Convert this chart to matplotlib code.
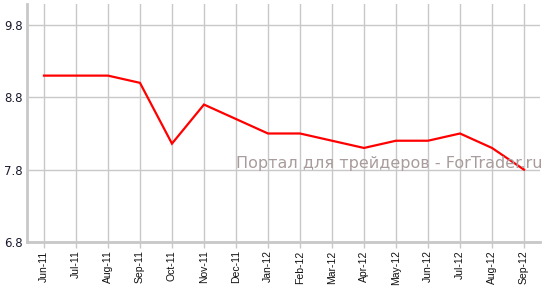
import matplotlib
matplotlib.use("Agg")
import matplotlib.pyplot as plt

months = ["Jun-11", "Jul-11", "Aug-11", "Sep-11", "Oct-11", "Nov-11", "Dec-11",
          "Jan-12", "Feb-12", "Mar-12", "Apr-12", "May-12", "Jun-12", "Jul-12",
          "Aug-12", "Sep-12"]
values = [9.1, 9.1, 9.1, 9.0, 8.16, 8.7, 8.5, 8.3, 8.3, 8.2, 8.1, 8.2, 8.2, 8.3, 8.1, 7.8]
yticks = [6.8, 7.8, 8.8, 9.8]

fig = plt.figure(figsize=(5.49, 2.94), dpi=100)
ax = fig.add_axes([27/549, 1-242/294, (540-27)/549, (242-4)/294])

x = list(range(len(months)))
ax.plot(x, values, color="#ff0000", lw=1.6, zorder=3, solid_joinstyle="miter")

ax.set_xlim(-0.53, len(months) - 0.5)
ax.set_ylim(6.8, 10.09)
ax.set_yticks(yticks)
ax.set_yticklabels([f"{v:.1f}" for v in yticks], fontsize=8.5, color="#1a1a2e",
                   family="DejaVu Sans")
ax.set_xticks(x)
ax.set_xticklabels(months, rotation=90, fontsize=7.5, family="Liberation Sans",
                   color="#111111")
ax.grid(True, color="#c8c8c8", lw=1)
ax.set_axisbelow(True)
ax.tick_params(axis="x", length=4, color="#c8c8c8", width=1, pad=2)
ax.tick_params(axis="y", length=0, pad=3)
for s in ["top", "right"]:
    ax.spines[s].set_visible(False)
for s in ["left", "bottom"]:
    ax.spines[s].set_color("#c8c8c8")
    ax.spines[s].set_linewidth(2)

ax.text(1.004, 0.3, "Портал для трейдеров - ForTrader.ru", transform=ax.transAxes,
        ha="right", va="bottom", fontsize=11.5, color="#a89c9c", family="DejaVu Sans",
        zorder=4, clip_on=False)

fig.savefig("out.png", dpi=100)
